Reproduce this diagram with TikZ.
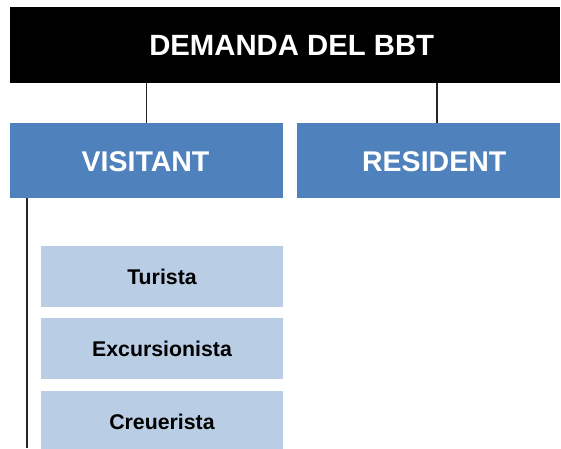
\documentclass[tikz,border=0pt]{standalone}
\usepackage{fontspec}
\setmainfont{Liberation Sans}
\definecolor{hdrblue}{HTML}{4F81BD}
\definecolor{subblue}{HTML}{B9CDE5}
\begin{document}
\begin{tikzpicture}[x=1pt,y=-1pt,
  box/.style={anchor=north west,inner sep=0pt,outer sep=0pt},
  topbox/.style={box,fill=black},
  catbox/.style={box,fill=hdrblue},
  toptext/.style={inner sep=0pt,text=white,font=\bfseries\fontsize{29.3}{33}\selectfont},
  cattext/.style={inner sep=0pt,text=white,font=\bfseries\fontsize{28.5}{33}\selectfont},
  subbox/.style={box,fill=subblue,text=black,font=\bfseries\fontsize{21.3}{25}\selectfont},
  link/.style={draw=black!85,line width=1.6pt}]
\useasboundingbox (0,0) rectangle (561,448);
\clip (0,0) rectangle (561,448);
\node[topbox,minimum width=550pt,minimum height=76pt] (dem) at (10,7) {};
\node[toptext] (demt) at ([xshift=6.7pt]dem.center) {DEMANDA DEL BBT};
\node[catbox,minimum width=273pt,minimum height=75pt] (vis) at (10,123) {};
\node[cattext] (vist) at ([xshift=-1pt,yshift=-1pt]vis.center) {VISITANT};
\node[catbox,minimum width=263pt,minimum height=75pt] (res) at (297,123) {};
\node[cattext] (rest) at ([xshift=5.7pt,yshift=-1pt]res.center) {RESIDENT};
\node[subbox,minimum width=242pt,minimum height=61pt] (tur) at (41,246) {Turista};
\node[subbox,minimum width=242pt,minimum height=61pt] (exc) at (41,318) {Excursionista};
\node[subbox,minimum width=242pt,minimum height=61pt] (cre) at (41,391) {Creuerista};
\coordinate (vl) at (27,448);
\draw[link] (vis.north) -- (vis.north |- dem.south);
\draw[link] ([xshift=8.5pt]res.north) -- ([xshift=8.5pt]res.north |- dem.south);
\draw[link] (vis.south west -| vl) -- (vl);
\end{tikzpicture}
\end{document}
